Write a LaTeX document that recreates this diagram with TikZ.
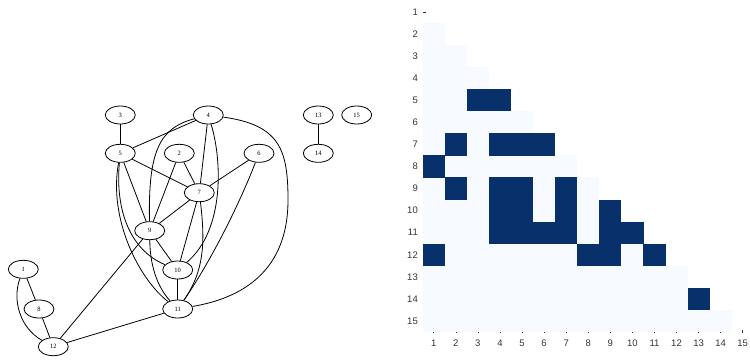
\documentclass[tikz,border=0pt]{standalone}
\usepackage{fontspec}
\setmainfont{Liberation Serif}
\newfontfamily\axisfont{Liberation Sans}
\usepackage{tikz}
\usetikzlibrary{shapes.geometric}

\definecolor{cellDark}{HTML}{08306B}
\definecolor{cellLight}{HTML}{F7FBFF}
\definecolor{tickGray}{HTML}{333333}

\begin{document}
\begin{tikzpicture}[x=1pt, y=-1pt,
  vertex/.style = {ellipse, draw, line width=0.8pt, minimum width=30pt, minimum height=18pt, inner sep=0pt, font=\fontsize{6.5}{7}\selectfont},
  edge/.style = {line width=0.8pt},
  axlabel/.style = {font=\axisfont\fontsize{9.5}{10}\selectfont, text=tickGray, inner sep=0pt}]
  \useasboundingbox (0,0) rectangle (750,360);

  % graph
  \node[vertex] (n3) at (120.3,115) {3};
  \node[vertex] (n4) at (208.3,115) {4};
  \node[vertex] (n13) at (318.3,115) {13};
  \node[vertex] (n15) at (356.7,115) {15};
  \node[vertex] (n5) at (120.3,153.3) {5};
  \node[vertex] (n2) at (179.3,153.3) {2};
  \node[vertex] (n6) at (259,153.3) {6};
  \node[vertex] (n14) at (318.3,153.3) {14};
  \node[vertex] (n7) at (199.3,192.7) {7};
  \node[vertex] (n9) at (149.7,230.7) {9};
  \node[vertex] (n1) at (23.3,269.3) {1};
  \node[vertex] (n10) at (177.7,270) {10};
  \node[vertex] (n8) at (39,309) {8};
  \node[vertex] (n11) at (177.7,309) {11};
  \node[vertex] (n12) at (53.3,346.7) {12};

  \draw[edge] (n3) -- (n5);
  \draw[edge] (n4) -- (n5);
  \draw[edge] (n4) .. controls (160,128) and (148,150) .. (n9);
  \draw[edge] (n4) -- (n7);
  \draw[edge] (n4) .. controls (222,160) and (225,230) .. (n10);
  \draw[edge] (n4) .. controls (280,125) and (288,150) .. (288,200) .. controls (288,280) and (230,300) .. (n11);
  \draw[edge] (n5) -- (n7);
  \draw[edge] (n5) -- (n9);
  \draw[edge] (n5) .. controls (115,210) and (130,250) .. (n10);
  \draw[edge] (n5) .. controls (108,220) and (140,280) .. (n11);
  \draw[edge] (n2) -- (n7);
  \draw[edge] (n2) -- (n9);
  \draw[edge] (n6) -- (n7);
  \draw[edge] (n6) .. controls (235,215) and (205,270) .. (n11);
  \draw[edge] (n7) -- (n9);
  \draw[edge] (n7) -- (n10);
  \draw[edge] (n7) .. controls (205,240) and (205,270) .. (n11);
  \draw[edge] (n9) -- (n10);
  \draw[edge] (n9) .. controls (150,270) and (160,290) .. (n11);
  \draw[edge] (n9) -- (n12);
  \draw[edge] (n10) -- (n11);
  \draw[edge] (n11) -- (n12);
  \draw[edge] (n1) -- (n8);
  \draw[edge] (n1) .. controls (12,300) and (20,328) .. (n12);
  \draw[edge] (n8) -- (n12);
  \draw[edge] (n13) -- (n14);

  % adjacency matrix
  \foreach \i in {1,...,15} {
    \draw[tickGray, line width=0.6pt] (422.7,{0.93+(\i-0.5)*22.07}) -- ++(3.5,0);
    \draw[tickGray, line width=0.6pt] ({422.7+(\i-0.5)*22.07},333) -- ++(0,-3.5);
    \node[axlabel, anchor=east] (ylab\i) at (418,{0.93+(\i-0.5)*22.07}) {\i};
    \node[axlabel] (xlab\i) at ({422.7+(\i-0.5)*22.07},343) {\i};
  }
  \foreach \i in {2,...,15}
    \fill[cellLight] (422.7,{0.93+(\i-1)*22.07}) rectangle ({422.7+(\i-1)*22.07},{0.93+\i*22.07});
  \foreach \r/\c in {5/3,5/4,7/2,7/4,7/5,7/6,8/1,9/2,9/4,9/5,9/7,10/4,10/5,10/7,10/9,11/4,11/5,11/6,11/7,11/9,11/10,12/1,12/8,12/9,12/11,14/13}
    \fill[cellDark] ({422.7+(\c-1)*22.07},{0.93+(\r-1)*22.07}) rectangle +(22.2,22.2);
\end{tikzpicture}
\end{document}
